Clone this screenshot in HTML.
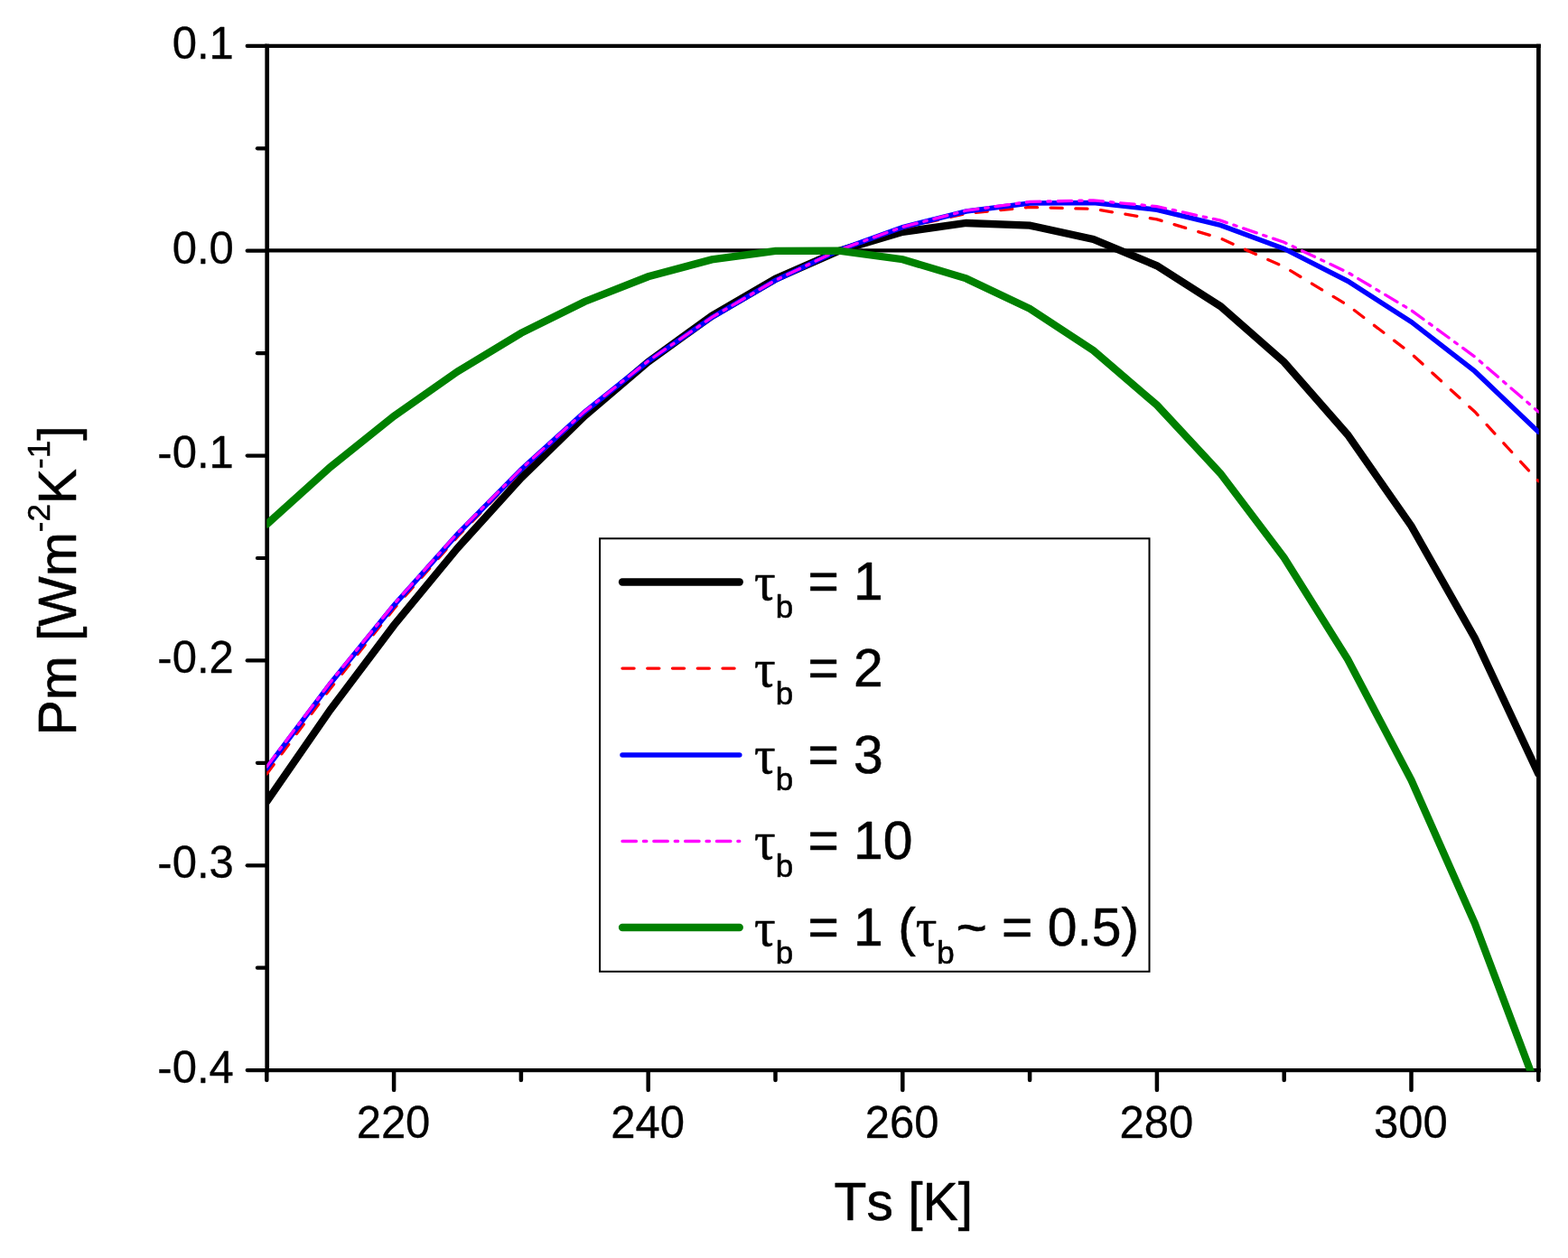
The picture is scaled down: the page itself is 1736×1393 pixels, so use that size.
<!DOCTYPE html>
<html lang="en"><head><meta charset="utf-8"><title>Pm vs Ts</title>
<style>html,body{margin:0;padding:0;background:#fff}body{width:1736px;height:1393px;overflow:hidden}svg{display:block}text{font-family:"Liberation Sans",sans-serif;font-kerning:none;fill:#000;stroke:#000;stroke-width:.3px;stroke-linejoin:round}.tk{font-size:49px}.ti{font-size:58.8px;stroke-width:.55px}.lg{font-size:58.8px;stroke-width:.55px}.sym{font-family:"Liberation Serif",serif}.sub{font-size:35px}</style></head><body>
<svg width="1736" height="1393" viewBox="0 0 1736 1393">
<rect width="1736" height="1393" fill="#fff"/>
<defs><clipPath id="c"><rect x="295.3" y="50.9" width="1408.4" height="1134.9"/></clipPath></defs>
<g fill="none" stroke="#000" stroke-linecap="round">
<path d="M293.35 50.9H1705.75M293.35 1185.1H1705.75" stroke-width="4.2" stroke-linecap="butt"/>
<path d="M295.7 48.80V1187.20M1703.4 48.80V1187.20" stroke-width="4.7" stroke-linecap="butt"/>
<line x1="295.2" y1="50.9" x2="273.7" y2="50.9" stroke-width="4.2"/>
<line x1="295.2" y1="164.3" x2="284.9" y2="164.3" stroke-width="4.2"/>
<line x1="295.2" y1="277.7" x2="273.7" y2="277.7" stroke-width="4.2"/>
<line x1="295.2" y1="391.2" x2="284.9" y2="391.2" stroke-width="4.2"/>
<line x1="295.2" y1="504.6" x2="273.7" y2="504.6" stroke-width="4.2"/>
<line x1="295.2" y1="618.0" x2="284.9" y2="618.0" stroke-width="4.2"/>
<line x1="295.2" y1="731.4" x2="273.7" y2="731.4" stroke-width="4.2"/>
<line x1="295.2" y1="844.8" x2="284.9" y2="844.8" stroke-width="4.2"/>
<line x1="295.2" y1="958.3" x2="273.7" y2="958.3" stroke-width="4.2"/>
<line x1="295.2" y1="1071.7" x2="284.9" y2="1071.7" stroke-width="4.2"/>
<line x1="295.2" y1="1185.1" x2="273.7" y2="1185.1" stroke-width="4.2"/>
<line x1="295.3" y1="1185.6" x2="295.3" y2="1195.9" stroke-width="4.5"/>
<line x1="436.1" y1="1185.6" x2="436.1" y2="1207.1" stroke-width="4.5"/>
<line x1="576.9" y1="1185.6" x2="576.9" y2="1195.9" stroke-width="4.5"/>
<line x1="717.7" y1="1185.6" x2="717.7" y2="1207.1" stroke-width="4.5"/>
<line x1="858.5" y1="1185.6" x2="858.5" y2="1195.9" stroke-width="4.5"/>
<line x1="999.3" y1="1185.6" x2="999.3" y2="1207.1" stroke-width="4.5"/>
<line x1="1140.1" y1="1185.6" x2="1140.1" y2="1195.9" stroke-width="4.5"/>
<line x1="1280.9" y1="1185.6" x2="1280.9" y2="1207.1" stroke-width="4.5"/>
<line x1="1421.7" y1="1185.6" x2="1421.7" y2="1195.9" stroke-width="4.5"/>
<line x1="1562.5" y1="1185.6" x2="1562.5" y2="1207.1" stroke-width="4.5"/>
<line x1="1703.3" y1="1185.6" x2="1703.3" y2="1195.9" stroke-width="4.5"/>
</g>
<g clip-path="url(#c)" fill="none" stroke-linejoin="miter" stroke-linecap="round">
<polyline points="295.3,887.6 365.7,786.0 436.1,692.4 506.5,606.9 576.9,529.3 647.3,460.6 717.7,400.7 788.1,349.8 858.5,308.8 928.9,277.8 999.3,256.8 1069.7,247.0 1140.1,249.6 1210.5,265.0 1280.9,294.3 1351.3,339.2 1421.7,400.9 1492.1,481.4 1562.5,582.4 1632.9,706.7 1703.3,856.9" stroke="#000" stroke-width="8.3"/>
<line x1="295.7" y1="277.4" x2="1703.4" y2="277.4" stroke="#000" stroke-width="4.4"/>
<polyline points="295.3,857.1 365.7,762.5 436.1,674.2 506.5,594.3 576.9,521.8 647.3,457.1 717.7,400.5 788.1,351.8 858.5,310.6 928.9,277.4 999.3,252.6 1069.7,236.4 1140.1,229.4 1210.5,231.4 1280.9,242.9 1351.3,264.0 1421.7,295.5 1492.1,338.0 1562.5,391.6 1632.9,456.0 1703.3,532.8" stroke="#f00" stroke-width="3.3" stroke-dasharray="13.1 14.65"/>
<polyline points="295.3,850.8 365.7,756.9 436.1,670.4 506.5,591.5 576.9,519.9 647.3,456.0 717.7,400.0 788.1,351.6 858.5,310.4 928.9,277.0 999.3,251.6 1069.7,234.0 1140.1,225.0 1210.5,224.5 1280.9,232.3 1351.3,249.4 1421.7,275.4 1492.1,311.2 1562.5,356.4 1632.9,411.2 1703.3,478.3" stroke="#00f" stroke-width="5.5"/>
<polyline points="295.3,849.0 365.7,755.6 436.1,669.1 506.5,590.4 576.9,519.3 647.3,455.6 717.7,399.7 788.1,351.4 858.5,310.3 928.9,276.8 999.3,251.3 1069.7,233.2 1140.1,223.4 1210.5,221.9 1280.9,228.6 1351.3,244.2 1421.7,268.3 1492.1,301.6 1562.5,343.6 1632.9,395.1 1703.3,456.1" stroke="#f0f" stroke-width="3.3" stroke-dasharray="15.5 7.95 3.4 7.95"/>
<polyline points="295.3,580.6 365.7,517.2 436.1,460.8 506.5,411.4 576.9,368.9 647.3,334.0 717.7,306.3 788.1,287.4 858.5,277.9 928.9,277.6 999.3,287.2 1069.7,308.4 1140.1,341.8 1210.5,388.0 1280.9,448.6 1351.3,524.3 1421.7,617.6 1492.1,730.0 1562.5,863.9 1632.9,1022.6 1703.3,1209.4" stroke="#008000" stroke-width="8.3"/>
</g>
<text class="tk" text-anchor="end" transform="translate(258.8 64.7) scale(1 1.020)">0.1</text>
<text class="tk" text-anchor="end" transform="translate(258.8 291.5) scale(1 1.020)">0.0</text>
<text class="tk" text-anchor="end" transform="translate(258.8 518.4) scale(1 1.020)">-0.1</text>
<text class="tk" text-anchor="end" transform="translate(258.8 745.2) scale(1 1.020)">-0.2</text>
<text class="tk" text-anchor="end" transform="translate(258.8 972.1) scale(1 1.020)">-0.3</text>
<text class="tk" text-anchor="end" transform="translate(258.8 1198.9) scale(1 1.020)">-0.4</text>
<text class="tk" text-anchor="middle" transform="translate(435.5 1260.2) scale(1 1.020)">220</text>
<text class="tk" text-anchor="middle" transform="translate(717.1 1260.2) scale(1 1.020)">240</text>
<text class="tk" text-anchor="middle" transform="translate(998.7 1260.2) scale(1 1.020)">260</text>
<text class="tk" text-anchor="middle" transform="translate(1280.3 1260.2) scale(1 1.020)">280</text>
<text class="tk" text-anchor="middle" transform="translate(1561.9 1260.2) scale(1 1.020)">300</text>
<text class="ti" text-anchor="middle" transform="translate(1000.3 1350.5) scale(1 1.020)">Ts [K]</text>
<text class="ti" text-anchor="middle" transform="translate(83.8 643.0) rotate(-90) scale(1 1.020)">Pm [Wm<tspan class="sub" dy="-28">-2</tspan><tspan dy="28">K</tspan><tspan class="sub" dy="-28">-1</tspan><tspan dy="28">]</tspan></text>
<rect x="664.1" y="596.3" width="608.4" height="479.5" fill="#fff" stroke="#000" stroke-width="2"/>
<line x1="689" y1="644.5" x2="818.8" y2="644.5" stroke="#000" stroke-width="8.3" stroke-linecap="round"/>
<text class="lg" text-anchor="start" transform="translate(835.0 664.4) scale(1 1.020)"><tspan class="sym">τ</tspan><tspan class="sub" dy="19.3">b</tspan><tspan dy="-19.3"> = 1</tspan></text>
<line x1="689" y1="740.1" x2="818.8" y2="740.1" stroke="#f00" stroke-width="3.3" stroke-linecap="round" stroke-dasharray="13.1 14.65"/>
<text class="lg" text-anchor="start" transform="translate(835.0 760.0) scale(1 1.020)"><tspan class="sym">τ</tspan><tspan class="sub" dy="19.3">b</tspan><tspan dy="-19.3"> = 2</tspan></text>
<line x1="689" y1="835.9" x2="818.8" y2="835.9" stroke="#00f" stroke-width="5.5" stroke-linecap="round"/>
<text class="lg" text-anchor="start" transform="translate(835.0 855.8) scale(1 1.020)"><tspan class="sym">τ</tspan><tspan class="sub" dy="19.3">b</tspan><tspan dy="-19.3"> = 3</tspan></text>
<line x1="689" y1="931.5" x2="818.8" y2="931.5" stroke="#f0f" stroke-width="3.3" stroke-linecap="round" stroke-dasharray="15.5 7.95 3.4 7.95"/>
<text class="lg" text-anchor="start" transform="translate(835.0 951.4) scale(1 1.020)"><tspan class="sym">τ</tspan><tspan class="sub" dy="19.3">b</tspan><tspan dy="-19.3"> = 10</tspan></text>
<line x1="689" y1="1027.0" x2="818.8" y2="1027.0" stroke="#008000" stroke-width="8.3" stroke-linecap="round"/>
<text class="lg" text-anchor="start" transform="translate(835.0 1046.9) scale(1 1.020)"><tspan class="sym">τ</tspan><tspan class="sub" dy="19.3">b</tspan><tspan dy="-19.3"> = 1 (</tspan><tspan class="sym">τ</tspan><tspan class="sub" dy="19.3">b</tspan><tspan dx="1.6" dy="-19.3">~ = 0.5)</tspan></text>
</svg></body></html>
